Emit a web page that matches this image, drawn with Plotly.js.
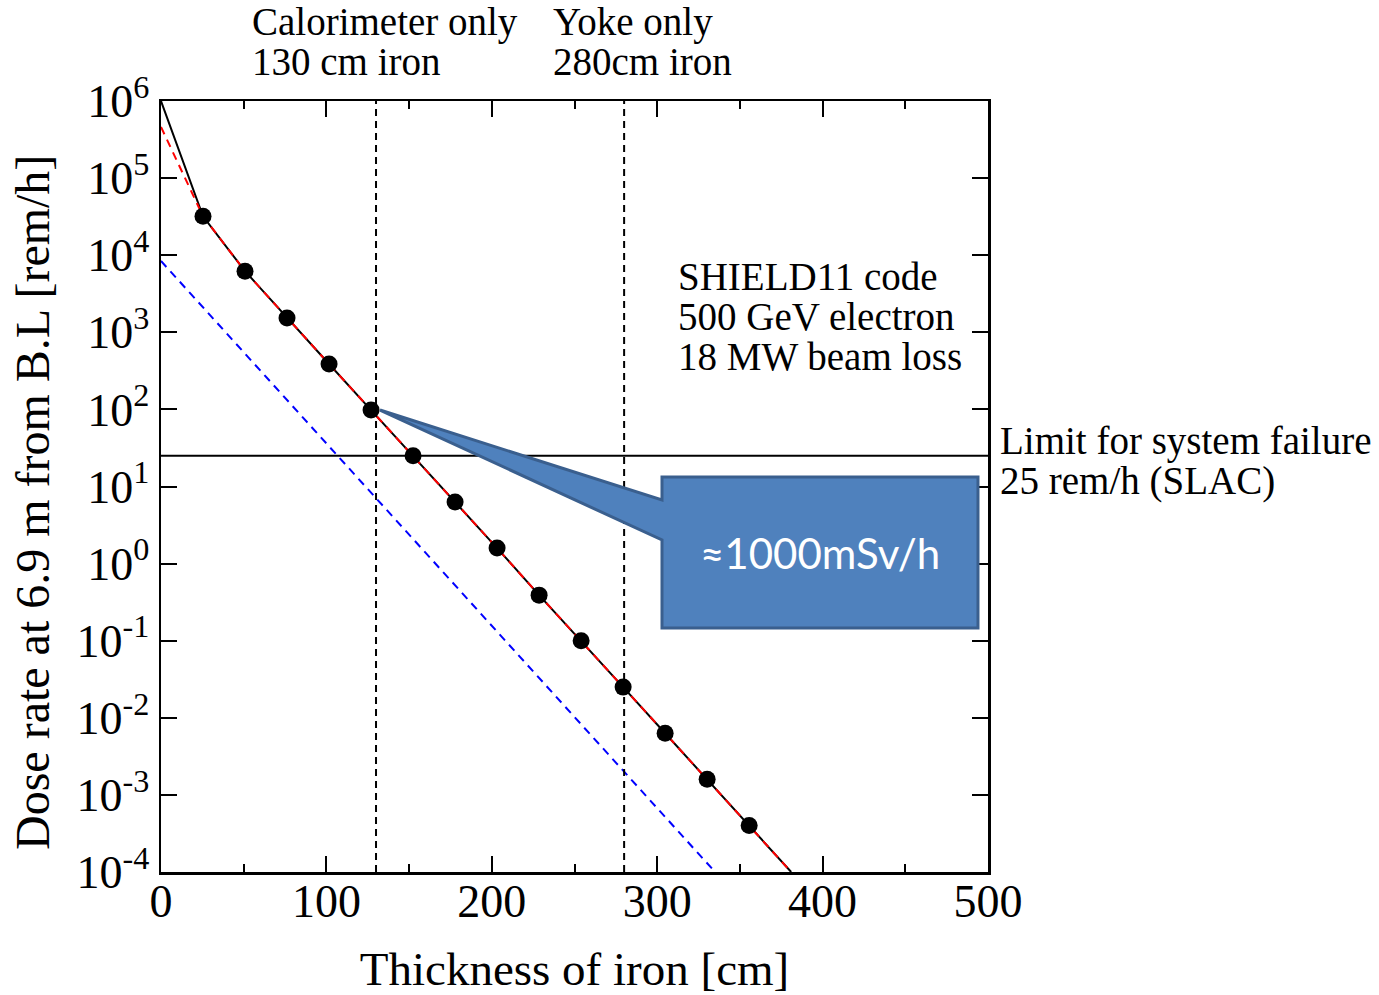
<!DOCTYPE html>
<html>
<head>
<meta charset="utf-8">
<script src="https://cdn.plot.ly/plotly-3.0.1.min.js"></script>
<style>html,body{margin:0;padding:0;background:#fff;}#chart{width:1379px;height:995px;}</style>
</head>
<body>
<div id="chart"></div>
<script>
// Simulated points (SHIELD11)
const thickness = [25.4, 50.8, 76.2, 101.6, 127, 152.4, 177.8, 203.2, 228.6, 254, 279.4, 304.8, 330.2, 355.6];
const doseRate = [3.2e4, 6.2e3, 1.53e3, 388, 98, 25, 6.3, 1.59, 0.39, 0.1, 0.025, 0.0063, 0.0016, 4.0e-4];
// Black fit line
const fitX = [0].concat(thickness, [381]);
const fitY = [1e6].concat(doseRate, [1e-4]);
// Red dashed curve
const redX = [0].concat(thickness, [381]);
const redY = [4.6e5].concat(doseRate, [1e-4]);
// Blue dashed line
const blueX = [0, 335];
const blueY = [8.4e3, 1e-4];
// Reference lines
const limitDose = 25;
const calorimeterX = 130;
const yokeX = 280;
// Tick labels
const yTickVals = [1e-4, 1e-3, 1e-2, 1e-1, 1e0, 1e1, 1e2, 1e3, 1e4, 1e5, 1e6];
const yTickText = ["10<sup>-4</sup>", "10<sup>-3</sup>", "10<sup>-2</sup>", "10<sup>-1</sup>", "10<sup>0</sup>", "10<sup>1</sup>", "10<sup>2</sup>", "10<sup>3</sup>", "10<sup>4</sup>", "10<sup>5</sup>", "10<sup>6</sup>"];
const xTickVals = [0, 100, 200, 300, 400, 500];

const serif = "Liberation Serif, Times New Roman, serif";

const traces = [
  {x: fitX, y: fitY, mode: 'lines', line: {color: '#000', width: 2}, showlegend: false, hoverinfo: 'skip'},
  {x: redX, y: redY, mode: 'lines', line: {color: '#ff0000', width: 2, dash: '8px,6px'}, showlegend: false, hoverinfo: 'skip'},
  {x: blueX, y: blueY, mode: 'lines', line: {color: '#0000ff', width: 2, dash: '8px,6px'}, showlegend: false, hoverinfo: 'skip'},
  {x: [0, 500], y: [limitDose, limitDose], mode: 'lines', line: {color: '#000', width: 2}, showlegend: false},
  {x: [calorimeterX, calorimeterX], y: [1e-4, 1e6], mode: 'lines', line: {color: '#000', width: 2, dash: '7px,5px'}, showlegend: false},
  {x: [yokeX, yokeX], y: [1e-4, 1e6], mode: 'lines', line: {color: '#000', width: 2, dash: '7px,5px'}, showlegend: false},
  {x: thickness, y: doseRate, mode: 'markers', marker: {color: '#000', size: 17}, showlegend: false}
];

function px2x(px) { return (px - 161) / 827; }
function px2y(py) { return (872 - py) / 771; }
function P(px, py) { return px2x(px).toFixed(4) + ',' + px2y(py).toFixed(4); }
const calloutPath = 'M' + P(662, 477) + ' L' + P(978, 477) + ' L' + P(978, 628) + ' L' + P(662, 628) +
  ' L' + P(662, 540) + ' L' + P(380, 410) + ' L' + P(662, 500) + ' Z';

function txt(text, px, py, size, anchor) {
  return {text: text, xref: 'paper', yref: 'paper', x: px2x(px), y: px2y(py), xanchor: anchor || 'left', yanchor: 'middle',
    showarrow: false, font: {family: serif, size: size || 39, color: '#000'}};
}

const annotations = [
  txt('Calorimeter only', 250, 22),
  txt('130 cm iron', 250, 62),
  txt('Yoke only', 551, 22),
  txt('280cm iron', 551, 62),
  txt('SHIELD11 code', 676, 276),
  txt('500 GeV electron', 676, 316),
  txt('18 MW beam loss', 676, 356),
  txt('Limit for system failure', 998, 441),
  txt('25 rem/h (SLAC)', 998, 481),
  {text: '≈1000mSv/h', xref: 'paper', yref: 'paper', x: px2x(820), y: px2y(553), xanchor: 'center', yanchor: 'middle',
    showarrow: false, font: {family: 'Lato, Open Sans, sans-serif', size: 42, color: '#fff'}},
  {text: 'Dose rate at 6.9 m from B.L [rem/h]', xref: 'paper', yref: 'paper', x: px2x(33), y: px2y(503),
    xanchor: 'center', yanchor: 'middle', textangle: -90, showarrow: false, font: {family: serif, size: 48, color: '#000'}}
];

const layout = {
  width: 1379, height: 995,
  margin: {l: 161, r: 391, t: 101, b: 123},
  paper_bgcolor: '#fff', plot_bgcolor: '#fff',
  font: {family: serif, color: '#000'},
  showlegend: false,
  xaxis: {
    range: [0, 500], tickvals: xTickVals, ticks: 'inside', ticklen: 16, tickwidth: 2, tickcolor: '#000',
    minor: {dtick: 50, ticks: 'inside', ticklen: 8, tickwidth: 2, tickcolor: '#000', showgrid: false},
    showline: true, linecolor: '#000', linewidth: 2.5, mirror: 'allticks', showgrid: false, zeroline: false,
    tickfont: {family: serif, size: 46}, ticklabelstandoff: -13,
    title: {text: 'Thickness of iron [cm]', font: {family: serif, size: 47}, standoff: 27}
  },
  yaxis: {
    type: 'log', range: [-4, 6], tickvals: yTickVals, ticktext: yTickText, ticks: 'inside', ticklen: 16, tickwidth: 2,
    tickcolor: '#000', showline: true, linecolor: '#000', linewidth: 2.5, mirror: 'allticks', showgrid: false, zeroline: false,
    tickfont: {family: serif, size: 46}
  },
  shapes: [
    {type: 'path', xref: 'paper', yref: 'paper', path: calloutPath, fillcolor: '#4f81bd', line: {color: '#3a5f8e', width: 3}, layer: 'above'}
  ],
  annotations: annotations
};

Plotly.newPlot('chart', traces, layout, {displayModeBar: false, staticPlot: true});
</script>
</body>
</html>
